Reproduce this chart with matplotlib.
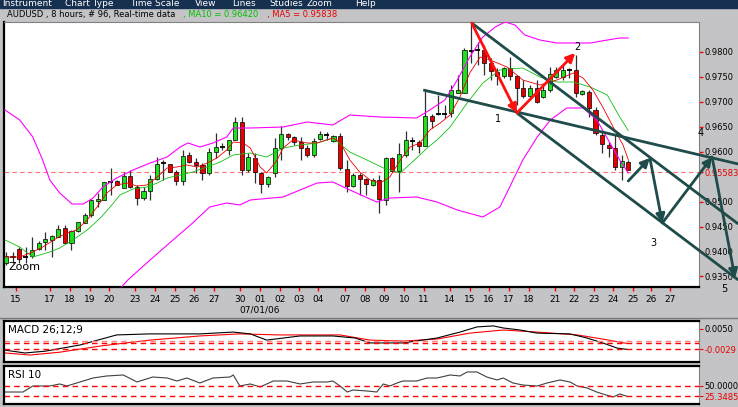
import matplotlib
matplotlib.use("Agg")
import matplotlib.pyplot as plt
from matplotlib.patches import Rectangle
import numpy as np

W, H = 738, 407

# ---- 8 hour candles, bar index = position in the list
opens = [.9377, .9391, .9405, .9389, .9391, .9405, .9419, .9423, .9429, .9447,
         .9417, .9441, .9457, .9473, .9501, .9503, .9539, .9541, .9527, .9551,
         .9529, .9507, .9521, .9545, .9577, .9575, .9559, .9541, .9593, .9579,
         .9573, .9557, .9599, .9609, .9603, .9623, .9659, .9563, .9587, .9557,
         .9535, .9557, .9607, .9635, .9629, .9619, .9607, .9593, .9625, .9633,
         .9621, .9631, .9565, .9531, .9553, .9545, .9533, .9543, .9503, .9587,
         .9561, .9593, .9621, .9619, .9611, .9671, .9675, .9675, .9677, .9717,
         .9717, .9801, .9803, .9803, .9777, .9759, .9751, .9767, .9751, .9727,
         .9711, .9727, .9709, .9723, .9749, .9749, .9763, .9763, .9715, .9719,
         .9683, .9633, .9613, .9607, .9569, .9579]
highs = [.9399, .9399, .9409, .9409, .9429, .9421, .9439, .9433, .9453, .9453,
         .9443, .9459, .9477, .9505, .9517, .9539, .9567, .9543, .9559, .9563,
         .9533, .9529, .9553, .9589, .9583, .9575, .9563, .9603, .9599, .9587,
         .9577, .9607, .9637, .9617, .9623, .9669, .9669, .9597, .9597, .9559,
         .9551, .9627, .9651, .9637, .9631, .9629, .9613, .9627, .9641, .9639,
         .9633, .9637, .9583, .9557, .9557, .9547, .9547, .9553, .9589, .9589,
         .9617, .9641, .9629, .9623, .9723, .9675, .9713, .9693, .9733, .9753,
         .9807, .9857, .9819, .9813, .9787, .9767, .9769, .9789, .9753, .9743,
         .9733, .9743, .9733, .9769, .9769, .9773, .9767, .9793, .9723, .9723,
         .9689, .9639, .9619, .9633, .9593, .9583]
lows = [.9373, .9377, .9377, .9377, .9387, .9403, .9403, .9389, .9429, .9417,
        .9403, .9439, .9457, .9469, .9489, .9503, .9513, .9533, .9527, .9527,
        .9493, .9503, .9503, .9543, .9543, .9559, .9533, .9533, .9577, .9557,
        .9543, .9553, .9587, .9603, .9593, .9623, .9553, .9559, .9537, .9517,
        .9529, .9549, .9583, .9623, .9613, .9583, .9589, .9589, .9623, .9623,
        .9619, .9563, .9519, .9529, .9513, .9513, .9531, .9477, .9493, .9559,
        .9519, .9589, .9603, .9597, .9611, .9647, .9673, .9667, .9669, .9717,
        .9717, .9777, .9773, .9753, .9743, .9733, .9747, .9743, .9693, .9707,
        .9707, .9697, .9707, .9719, .9747, .9743, .9747, .9709, .9713, .9669,
        .9633, .9597, .9589, .9563, .9543, .9563]
closes = [.9391, .9389, .9385, .9389, .9403, .9417, .9425, .9431, .9445, .9417,
          .9441, .9459, .9473, .9503, .9505, .9539, .9539, .9533, .9551, .9529,
          .9507, .9521, .9545, .9575, .9577, .9559, .9541, .9591, .9579, .9573,
          .9557, .9599, .9609, .9609, .9623, .9659, .9563, .9589, .9559, .9535,
          .9549, .9607, .9635, .9629, .9619, .9607, .9593, .9621, .9635, .9633,
          .9631, .9567, .9531, .9553, .9545, .9535, .9543, .9505, .9587, .9561,
          .9595, .9623, .9621, .9611, .9671, .9661, .9675, .9675, .9723, .9723,
          .9803, .9801, .9803, .9777, .9761, .9751, .9767, .9751, .9727, .9711,
          .9727, .9699, .9723, .9755, .9763, .9763, .9763, .9717, .9721, .9687,
          .9637, .9615, .9607, .9569, .9581, .9563]
last_price = 0.95583

# ---- studies (bar index, value)
ma5_x = [-0.15, 2.1, 4.1, 5.6, 7.8, 9.3, 10.8, 12.4, 13.9, 15.4, 16.9, 18.5, 20.0, 21.5,
         23.1, 24.6, 26.1, 27.6, 29.2, 30.7, 32.2, 33.7, 34.7, 36.2, 37.3, 38.8, 39.8,
         41.4, 42.3, 43.8, 46.0, 47.5, 49.9, 51.0, 52.5, 54.0, 55.6, 57.1, 58.6, 60.2,
         61.7, 63.2, 64.7, 66.3, 67.8, 69.3, 70.8, 72.4, 73.9, 76.5, 78.9, 81.5, 84.1,
         86.6, 88.1, 89.6, 91.1, 92.7, 94.2, 95.0]
ma5_y = [.9389, .9389, .9399, .9409, .9427, .9437, .9443, .9463, .9489, .9517, .9533,
         .9537, .9531, .9533, .9549, .9567, .9569, .9573, .9569, .9577, .9587, .9603,
         .9619, .9617, .9607, .9569, .9557, .9583, .9607, .9623, .9617, .9617, .9627,
         .9619, .9583, .9559, .9543, .9537, .9549, .9583, .9609, .9617, .9643, .9657,
         .9673, .9709, .9757, .9789, .9783, .9769, .9743, .9733, .9743, .9757, .9747,
         .9723, .9689, .9649, .9613, .95838]
ma10_x = [-0.15, 2.1, 4.1, 6.7, 8.2, 10.2, 12.4, 14.4, 15.9, 17.4, 19.4, 21.5, 23.1, 24.6,
          26.6, 28.5, 30.7, 32.7, 34.7, 37.3, 39.8, 42.3, 44.9, 47.5, 49.9, 52.5, 55.1,
          57.6, 60.2, 62.7, 64.3, 65.8, 67.8, 70.4, 72.8, 75.4, 76.5, 78.9, 81.5, 84.1,
          86.6, 89.2, 91.8, 93.7, 95.0]
ma10_y = [.9423, .9409, .9389, .9399, .9407, .9423, .9443, .9467, .9489, .9513, .9525,
          .9529, .9537, .9547, .9553, .9559, .9569, .9579, .9593, .9597, .9589, .9607,
          .9613, .9617, .9627, .9599, .9583, .9567, .9557, .9587, .9607, .9623, .9649,
          .9697, .9737, .9763, .9765, .9767, .9749, .9739, .9739, .9729, .9713, .9669,
          .9642]
bb_up_x = [-0.15, 2.1, 4.1, 5.6, 6.7, 8.2, 10.1, 11.8, 13.3, 14.8, 16.9, 19.4, 22.0, 24.6,
           26.6, 27.8, 29.6, 31.6, 33.7, 34.7, 37.3, 42.3, 46.0, 49.9, 52.5, 57.1, 62.7,
           64.7, 67.0, 68.9, 70.8, 72.8, 74.7, 76.2, 77.7, 79.2, 81.5, 84.1, 89.2, 91.8,
           93.7, 95.0]
bb_up_y = [.9683, .9663, .9629, .9583, .9543, .9517, .9495, .9495, .9507, .9529, .9547,
           .9563, .9577, .9589, .9609, .9617, .9609, .9617, .9629, .9647, .9647, .9649,
           .9659, .9653, .9673, .9669, .9667, .9683, .9703, .9743, .9789, .9829, .9849,
           .9859, .9853, .9833, .9823, .9817, .9817, .9823, .9827, .9827]
bb_lo_x = [15.9, 18.6, 22.0, 25.5, 28.5, 31.1, 33.7, 35.7, 37.3, 42.3, 47.5, 49.9, 52.5,
           56.6, 58.6, 62.7, 65.8, 68.9, 72.8, 75.4, 76.9, 78.9, 81.1, 83.1, 85.6, 88.1,
           90.2, 92.2, 93.7, 95.0]
bb_lo_y = [.9303, .9343, .9383, .9423, .9457, .9489, .9497, .9493, .9503, .9509, .9537,
           .9539, .9523, .9499, .9507, .9509, .9499, .9483, .9469, .9489, .9529, .9583,
           .9629, .9663, .9687, .9687, .9663, .9617, .9583, .9557]

macd_x = [-0.15, 2.9, 6.0, 11.3, 16.9, 22.0, 29.6, 34.7, 37.3, 39.8, 44.9, 49.9, 53.3,
          55.6, 60.6, 65.8, 69.3, 71.9, 74.4, 75.9, 78.5, 81.1, 86.1, 88.7, 91.1, 93.3, 94.8]
macd_y = [-.0032, -.0043, -.0036, -.0012, .0027, .0031, .0031, .0038, .0031, .0007,
          .0023, .0023, .0015, -.0004, -.0004, .0015, .0038, .0058, .0062, .0054, .0046,
          .0034, .0031, .0015, -.0004, -.0024, -.0029]
signal_x = [-0.15, 3.7, 8.2, 14.4, 22.0, 29.6, 35.7, 41.8, 51.0, 55.6, 60.6, 65.8, 70.8,
            75.9, 81.1, 87.2, 91.1, 94.8]
signal_y = [-.0043, -.0051, -.0040, -.0016, .0007, .0023, .0031, .0027, .0027, .0007,
            .0003, .0011, .0034, .0046, .0038, .0027, .0011, -.0006]

rsi_x = [-0.15, 2.6, 4.1, 6.7, 8.2, 9.3, 11.3, 13.3, 15.4, 17.9, 20.0, 22.4, 24.6, 26.1,
         27.6, 29.6, 31.6, 34.2, 34.7, 35.7, 37.3, 38.8, 40.8, 42.9, 44.9, 46.9, 49.0,
         49.9, 51.0, 52.1, 53.0, 55.1, 56.6, 57.6, 58.6, 59.7, 60.6, 62.7, 64.3, 65.8,
         67.8, 69.3, 70.4, 71.9, 73.4, 75.0, 75.9, 77.4, 78.9, 81.1, 82.6, 84.6, 86.1,
         87.2, 88.7, 90.2, 91.1, 92.7, 93.7, 94.8]
rsi_y = [35.3, 35.3, 49.3, 49.3, 54.0, 49.3, 58.6, 67.9, 72.6, 74.9, 58.6, 70.2, 67.9,
         60.9, 67.9, 56.3, 67.9, 70.2, 74.9, 49.3, 54.0, 47.0, 60.9, 60.9, 54.0, 58.6,
         58.6, 60.9, 49.3, 35.3, 40.0, 37.7, 35.3, 54.0, 49.3, 56.3, 60.9, 60.9, 67.9,
         67.9, 74.9, 72.6, 81.9, 81.9, 70.2, 63.3, 67.9, 56.3, 51.6, 49.3, 56.3, 63.3,
         58.6, 49.3, 44.7, 35.3, 30.7, 23.7, 30.7, 25.3485]

# ---- axis labels
day_pos = [1.5, 6.7, 9.8, 12.8, 15.7, 19.7, 22.7, 25.8, 28.7, 31.8, 35.7, 38.8, 41.8,
           44.7, 47.6, 51.8, 54.8, 57.7, 60.8, 63.8, 67.8, 70.8, 73.7, 76.8, 79.8, 83.8,
           86.7, 89.8, 92.7, 95.7, 98.5, 101.4]
day_labels = ['15', '17', '18', '19', '20', '23', '24', '25', '26', '27', '30', '01', '02',
              '03', '04', '07', '08', '09', '10', '11', '14', '15', '16', '17', '18', '21',
              '22', '23', '24', '25', '26', '27']
price_ticks = [0.935, 0.94, 0.945, 0.95, 0.96, 0.965, 0.97, 0.975, 0.98]

# ---- hand drawn objects (bar index, price)
peak = (71.1, 0.9857)
wave1 = (78.0, 0.9677)
wave2 = (86.9, 0.9797)
line_a = [(63.7, 0.9723), (111.8, 0.9575)]
line_b = [(71.1, 0.9857), (111.8, 0.9455)]
line_c = [(78.0, 0.9677), (111.8, 0.9343)]
proj = [(95.0, 0.9541), (98.3, 0.9587), (100.2, 0.9457), (107.8, 0.9589), (111.3, 0.9347)]
wave_labels = [('1', 75.1, 0.9665), ('2', 87.2, 0.9809), ('3', 98.8, 0.9417),
               ('4', 106.0, 0.9637), ('5', 109.6, 0.9325)]

BG = '#c4c4c6'
TEAL = '#1f4b4b'
GREEN = '#1fe01f'
RED = '#e80000'
MAG = '#ff00ff'
XLIM = (-0.3, 105.8)


def rect(l, t, r, b):
    return [l / W, 1 - b / H, (r - l) / W, (b - t) / H]


fig = plt.figure(figsize=(W / 100, H / 100), dpi=100, facecolor=BG)

# menu bar
fig.add_artist(Rectangle((0, 1 - 8 / H), 1, 8 / H, transform=fig.transFigure,
                         color='#16304f', zorder=0))
for name, x in [('Instrument', 2), ('Chart Type', 65), ('Time Scale', 130), ('View', 195),
                ('Lines', 232), ('Studies', 269), ('Zoom', 307), ('Help', 355)]:
    fig.text(x / W, 1 - 4 / H, name, color='white', fontsize=6.5, va='center')

fig.text(7 / W, 1 - 15 / H, 'AUDUSD , 8 hours, # 96, Real-time data', fontsize=6,
         va='center')
fig.text(183 / W, 1 - 15 / H, ', MA10 = 0.96420', fontsize=6, va='center', color='#00c000')
fig.text(267 / W, 1 - 15 / H, ', MA5 = 0.95838', fontsize=6, va='center', color=RED)

# ---- main price panel
ax = fig.add_axes(rect(4, 22, 699, 287))
ax.set_facecolor('white')
ax.set_xlim(*XLIM)
ax.set_ylim(0.9329, 0.9859)

o = np.array(opens); h = np.array(highs); lo = np.array(lows); c = np.array(closes)
idx = np.arange(len(o))
ax.vlines(idx, lo, h, color='#303030', lw=0.9, zorder=2)
doji = np.abs(c - o) < 0.00015
body = ~doji
ax.bar(idx[body], np.abs(c - o)[body], bottom=np.minimum(o, c)[body], width=0.62,
       color=np.where(c > o, GREEN, RED)[body], edgecolor='black', lw=0.5, zorder=3)
ax.hlines(c[doji], idx[doji] - 0.38, idx[doji] + 0.38, color='black', lw=1.3, zorder=3)

ax.plot(bb_up_x, bb_up_y, color=MAG, lw=0.8, zorder=4)
ax.plot(bb_lo_x, bb_lo_y, color=MAG, lw=0.8, zorder=4)
ax.plot(ma10_x, ma10_y, color='#10c010', lw=0.6, zorder=4)
ax.plot(ma5_x, ma5_y, color=RED, lw=0.6, zorder=4)
ax.axhline(last_price, color='#ff7070', lw=0.8, dashes=(4, 3), zorder=1)

for ln in (line_a, line_b, line_c):
    xs, ys = zip(*ln)
    ax.plot(xs, ys, color=TEAL, lw=2, zorder=5, clip_on=False, solid_capstyle='butt')

arrow = dict(arrowstyle='-|>', lw=2, mutation_scale=13, shrinkA=0, shrinkB=0)
ax.annotate('', xy=wave1, xytext=peak, arrowprops=dict(arrow, color='#ff1010'), zorder=6)
ax.annotate('', xy=wave2, xytext=wave1, arrowprops=dict(arrow, color='#ff1010'), zorder=6)
for a, b in zip(proj[:-1], proj[1:]):
    ax.annotate('', xy=b, xytext=a, arrowprops=dict(arrow, color=TEAL),
                annotation_clip=False, zorder=6)
for t, x, y in wave_labels:
    ax.text(x, y, t, fontsize=7, ha='center', va='center', clip_on=False, zorder=7)

ax.text(0.006, 0.075, 'Zoom', transform=ax.transAxes, fontsize=8, va='center', zorder=7)

ax.yaxis.tick_right()
ax.set_yticks(price_ticks + [last_price])
ax.set_yticklabels(['%.4f' % v for v in price_ticks] + ['%.5f' % last_price])
ax.tick_params(axis='y', colors='red', labelcolor='black', length=3, width=1,
               labelsize=6, pad=1)
ax.get_yticklabels()[-1].set_color(RED)
ax.set_xticks(day_pos)
ax.set_xticklabels(day_labels)
ax.tick_params(axis='x', colors='red', labelcolor='black', length=3, width=1,
               labelsize=6.5, pad=3)
for s in ('top', 'right'):
    ax.spines[s].set_color('#808080')
ax.spines['left'].set_linewidth(1.6)
ax.spines['bottom'].set_linewidth(1.6)

fig.text(260 / W, 1 - 310 / H, '07/01/06', fontsize=6.5, ha='center', va='center')
fig.add_artist(plt.Line2D([0, 1], [1 - 317.5 / H] * 2, transform=fig.transFigure,
                          color='#7a7a7a', lw=1))

# ---- MACD panel
am = fig.add_axes(rect(4, 321, 699, 362))
am.set_xlim(*XLIM)
am.set_ylim(-0.0078, 0.0081)
am.plot(signal_x, signal_y, color='#ff0000', lw=0.8)
am.plot(macd_x, macd_y, color='black', lw=0.8)
am.axhline(0.0003, color='#ff8080', lw=1, dashes=(4, 3))
am.axhline(-0.0006, color='#ff0000', lw=1, dashes=(4, 3))
am.axhline(-0.0029, color='#ff0000', lw=1, dashes=(4, 3))
am.text(0.006, 0.78, 'MACD 26;12;9', transform=am.transAxes, fontsize=7.5, va='center')
am.yaxis.tick_right()
am.set_yticks([0.005, -0.0029])
am.set_yticklabels(['0.0050', '-0.0029'])
am.tick_params(axis='y', colors='red', labelcolor='black', length=3, labelsize=6, pad=1)
am.get_yticklabels()[1].set_color(RED)
am.set_xticks([])

# ---- RSI panel
ar = fig.add_axes(rect(4, 366, 699, 404))
ar.set_xlim(*XLIM)
ar.set_ylim(7.4, 95.8)
ar.plot(rsi_x, rsi_y, color='#404040', lw=0.8)
ar.axhline(50, color='#ff0000', lw=1, dashes=(4, 3))
ar.axhline(25.3485, color='#ff0000', lw=1, dashes=(4, 3))
ar.text(0.006, 0.76, 'RSI 10', transform=ar.transAxes, fontsize=7.5, va='center')
ar.yaxis.tick_right()
ar.set_yticks([50, 25.3485])
ar.set_yticklabels(['50.0000', '25.3485'])
ar.tick_params(axis='y', colors='red', labelcolor='black', length=3, labelsize=6, pad=1)
ar.get_yticklabels()[1].set_color(RED)
ar.set_xticks([])

for a in (am, ar):
    for s in ('top', 'left', 'bottom'):
        a.spines[s].set_linewidth(1.6)
    a.spines['right'].set_color('#808080')

fig.savefig('out.png', dpi=100, facecolor=BG)
